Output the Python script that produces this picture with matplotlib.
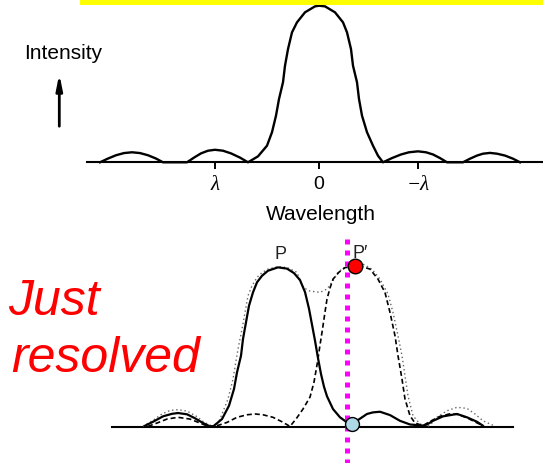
import matplotlib
matplotlib.use("Agg")
import matplotlib.pyplot as plt
from matplotlib.patches import Rectangle, FancyArrowPatch

W, H = 543, 464

# top panel: single diffraction pattern
# x = offset from centre in hundredths of a wavelength, intensity in % of peak
top_x = [-219, -211, -203, -195, -187, -179, -171, -163, -156,
         -132, -125, -118, -111, -104, -96, -88, -79, -71,
         -61, -52, -47, -43, -40, -36, -34, -31, -27, -22, -14, -4, 0,
         6, 16, 24, 28, 32, 34, 38, 40, 43, 48, 54, 59, 64,
         73, 82, 90, 99, 107, 114, 121, 128,
         144, 151, 158, 164, 171, 178, 186, 194, 201]
top_i = [0, 2.4, 4.5, 5.9, 6.4, 5.9, 4.5, 2.4, 0,
         0, 3.0, 5.7, 7.4, 8.0, 7.4, 5.7, 3.0, 0,
         3.8, 10.6, 19.2, 29.8, 40.4, 51.1, 61.7, 72.3, 83.0, 89.4, 95.8, 99.6, 100,
         99.6, 95.8, 89.4, 83.0, 72.3, 61.7, 51.1, 40.4, 29.8, 19.2, 10.6, 4.2, 0,
         2.7, 5.0, 6.4, 7.0, 6.4, 5.0, 2.7, 0,
         0, 2.3, 4.3, 5.5, 6.0, 5.5, 4.3, 2.3, 0]
top_span = [-232, 224]
top_ticks = [-104, 0, 99]
top_tick_labels = ['λ', '0', '−λ']

# bottom panel: two images P and P' just resolved (offset from P)
p_x = [-133, -125, -115, -106, -100, -91, -83, -75, -68,
       -65, -56, -49, -44, -41, -37, -35, -32, -29, -25, -21, -16, -10, 0,
       9, 16, 22, 27, 31, 34, 37, 40, 43, 46, 49, 55, 62, 69, 74,
       80, 89, 95, 102, 112, 122, 132, 145, 149, 155, 165, 179, 189, 199, 204]
p_i = [0.5, 3.0, 6.4, 8.0, 8.5, 7.7, 5.2, 2.2, 0.1,
       0, 4.7, 13.1, 23.6, 34.0, 44.5, 55.0, 65.5, 75.9, 84.3, 90.6, 94.7, 97.9, 100,
       99.2, 96.4, 92.0, 84.5, 74, 64, 54, 43, 33, 25, 19, 11, 5.8, 2.6, 0,
       4.1, 7.9, 8.9, 9.3, 7.2, 3.6, 1.3, 0.6, 1.3, 3.6, 6.4, 7.9, 5.8, 3.0, 0.9]

q_x = [-130, -121, -111, -100, -88, -78, -70,
       -61, -51, -41, -31, -23, -15, -5, 4, 12,
       18, 25, 32, 36, 39.5, 42, 44.5, 47, 49, 52, 55, 61, 67, 77,
       84, 92, 100, 107, 112, 117, 120, 124, 127, 132, 137, 145,
       152, 162, 172, 180, 190, 198, 206]
q_i = [0.1, 2.2, 4.7, 5.8, 4.7, 2.2, 0.1,
       0.5, 2.6, 5.8, 7.4, 7.9, 7.4, 5.8, 3.0, 0.1,
       4.7, 11.0, 18.5, 27.9, 40.5, 51.2, 61.2, 71.9, 80.1, 87.0, 92.6, 97.0, 99.8, 100.9,
       100.5, 98.9, 92.6, 84.2, 71.7, 57.0, 44.5, 29.8, 17.3, 6.8, 2.2, 0.6,
       3.2, 6.4, 8.0, 7.6, 5.2, 2.6, 0.3]

sum_x = [-135, -126, -116, -108, -100, -91, -82, -74, -66,
         -62, -58, -50, -45, -40, -36, -33, -30, -26, -21, -16, -10, 0,
         9, 19, 25, 32, 42, 49, 54, 60, 68, 77, 85, 94, 102, 110, 115, 120, 124, 127, 130, 135, 142, 150,
         152, 159, 169, 179, 189, 197, 205, 212, 217]
sum_i = [0.3, 3.5, 7.9, 10.1, 10.6, 9.7, 6.6, 2.8, 0.3,
         0.5, 4.7, 17.3, 29.8, 48.7, 61.2, 71.7, 82.2, 88.4, 93.7, 96.7, 98.9, 100.5,
         99.9, 96.9, 87.4, 85.1, 84.3, 86.4, 90.6, 96.9, 100.8, 102.4, 102.1, 98.9, 92.6, 83.2, 71.7,
         57.0, 44.5, 31.9, 19.3, 6.8, 1.6, 0.3,
         0.9, 5.8, 9.9, 12.1, 11.4, 7.9, 3.6, 1.6, 0.3]

bottom_span = [-166, 235]
peak_q = [77, 101]        # red dot on P' maximum
min_p = [73.7, 1.6]       # blue dot on first minimum of P
rayleigh_x = 69
rayleigh_top = 117.8
labels = ['P', 'P′']
label_x = [2, 82]
label_y = [108.4, 109.6]

fig = plt.figure(figsize=(W / 100, H / 100), dpi=100)

# yellow strip at the top
fig.add_artist(Rectangle((80 / W, 1 - 6 / H), 1 - 80 / W, 6 / H,
                         transform=fig.transFigure, color='#FFFF00', lw=0))

# ---- top panel
ax1 = fig.add_axes([0, 234 / H, 1, 230 / H])
ax1.patch.set_visible(False)
ax1.plot(top_x, top_i, color='black', lw=1.7, solid_joinstyle='round')
ax1.set_xlim(-319, 224)
ax1.set_ylim(-42.6, 104.3)
for s in ['left', 'right', 'top']:
    ax1.spines[s].set_visible(False)
ax1.spines['bottom'].set_position(('data', 0))
ax1.spines['bottom'].set_bounds(*top_span)
ax1.spines['bottom'].set_linewidth(1.5)
ax1.set_yticks([])
ax1.set_xticks(top_ticks, top_tick_labels)
ax1.tick_params(axis='x', length=4.8, width=1.4, pad=4.5, labelsize=14)
for lab in ax1.get_xticklabels():
    if 'λ' in lab.get_text():
        lab.set_family('Liberation Serif')
        lab.set_style('italic')
        lab.set_fontsize(15)
    else:
        lab.set_family('Liberation Sans')
ax1.text(2, -36.2, 'Wavelength', ha='center', va='baseline',
         fontsize=15, family='Liberation Sans')

fig.text(24 / W, 1 - 59.3 / H, 'Intensity', ha='left', va='baseline',
         fontsize=15, family='Liberation Sans')
fig.add_artist(FancyArrowPatch(
    (59.3 / W, 1 - 130 / H), (59.3 / W, 1 - 72 / H), transform=fig.transFigure,
    arrowstyle='-|>,head_length=0.9,head_width=0.18', mutation_scale=10,
    lw=2, color='black'))

# ---- bottom panel
ax2 = fig.add_axes([0, 0, 1, 234 / H])
ax2.patch.set_visible(False)
ax2.set_axis_off()
ax2.set_xlim(-278, 265)
ax2.set_ylim(-22.9, 124.1)
ax2.plot(bottom_span, [0, 0], color='black', lw=1.5)
ax2.plot(sum_x, sum_i, color='#666666', lw=1.0, ls=(0, (1, 2)))
ax2.plot(q_x, q_i, color='black', lw=1.2, ls=(0, (3, 1.8)))
ax2.plot(p_x, p_i, color='black', lw=1.6, solid_joinstyle='round')
for t, x, y in zip(labels, label_x, label_y):
    ax2.text(x, y, t, ha='center', va='center', fontsize=13,
             family='Liberation Sans', color='#222222', zorder=2)
ax2.plot([rayleigh_x, rayleigh_x], [rayleigh_top, -22.9], color='#FF00FF',
         lw=3.6, ls=(0, (1, 1.2)), zorder=4)
ax2.plot(*peak_q, 'o', ms=10.5, mfc='#FF0000', mec='black', mew=1, zorder=5)
ax2.plot(*min_p, 'o', ms=10, mfc='#ADD8E6', mec='black', mew=1, zorder=5)

fig.text(8 / W, 1 - 315 / H, 'Just', ha='left', va='baseline', fontsize=36,
         family='Liberation Sans', style='italic', color='#FF0000')
fig.text(11 / W, 1 - 372 / H, 'resolved', ha='left', va='baseline', fontsize=36,
         family='Liberation Sans', style='italic', color='#FF0000')

fig.savefig('out.png', dpi=100)
